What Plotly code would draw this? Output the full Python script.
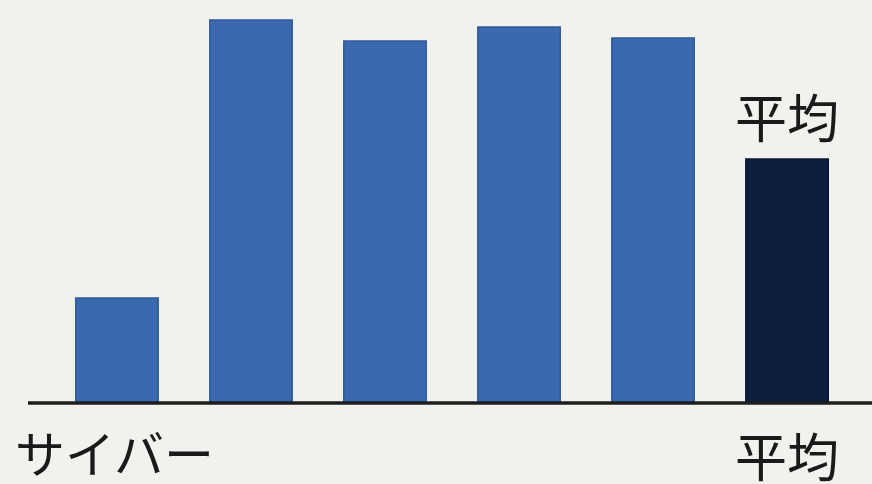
import plotly.graph_objects as go

categories = ["サイバー", "項目2", "項目3", "項目4", "項目5", "平均"]
values = [105, 383, 362, 376, 365, 244]
colors = ["#3b69ad", "#3b69ad", "#3b69ad", "#3b69ad", "#3b69ad", "#0d1d3e"]
edge_colors = ["#2f5a99", "#2f5a99", "#2f5a99", "#2f5a99", "#2f5a99", "#0a162e"]
axis_labels = ["サイバー", "平均"]
top_label = "平均"

FONT = "Noto Sans CJK JP"

fig = go.Figure()
fig.add_trace(go.Bar(
    x=list(range(len(categories))),
    y=values,
    marker=dict(color=colors, line=dict(color=edge_colors, width=1.5)),
    width=0.615,
    hoverinfo="skip",
))

annotations = [
    dict(x=0, y=0, xref="x", yref="y", text=axis_labels[0], showarrow=False,
         yanchor="top", xanchor="center", yshift=-10, xshift=-2,
         font=dict(family=FONT, size=50, color="#1a1a1a")),
    dict(x=len(categories) - 1, y=0, xref="x", yref="y", text=axis_labels[1], showarrow=False,
         yanchor="top", xanchor="center", yshift=-12,
         font=dict(family=FONT, size=52, color="#1a1a1a")),
    dict(x=len(categories) - 1, y=values[-1], xref="x", yref="y", text=top_label, showarrow=False,
         yanchor="bottom", xanchor="center", yshift=4,
         font=dict(family=FONT, size=52, color="#1a1a1a")),
]

fig.update_layout(
    width=872, height=484,
    margin=dict(l=28, r=0, t=0, b=81),
    paper_bgcolor="#f1f1ed",
    plot_bgcolor="rgba(0,0,0,0)",
    showlegend=False,
    annotations=annotations,
    xaxis=dict(range=[-0.664, 5.634], showticklabels=False, showgrid=False,
               zeroline=False, showline=False, fixedrange=True),
    yaxis=dict(range=[0, 403], visible=False, showgrid=False, zeroline=False),
    shapes=[dict(type="line", xref="paper", yref="paper", x0=0, x1=1, y0=0, y1=0,
                 line=dict(color="#1e1e1e", width=3.5), layer="above")],
)

fig.write_html("out.html")
